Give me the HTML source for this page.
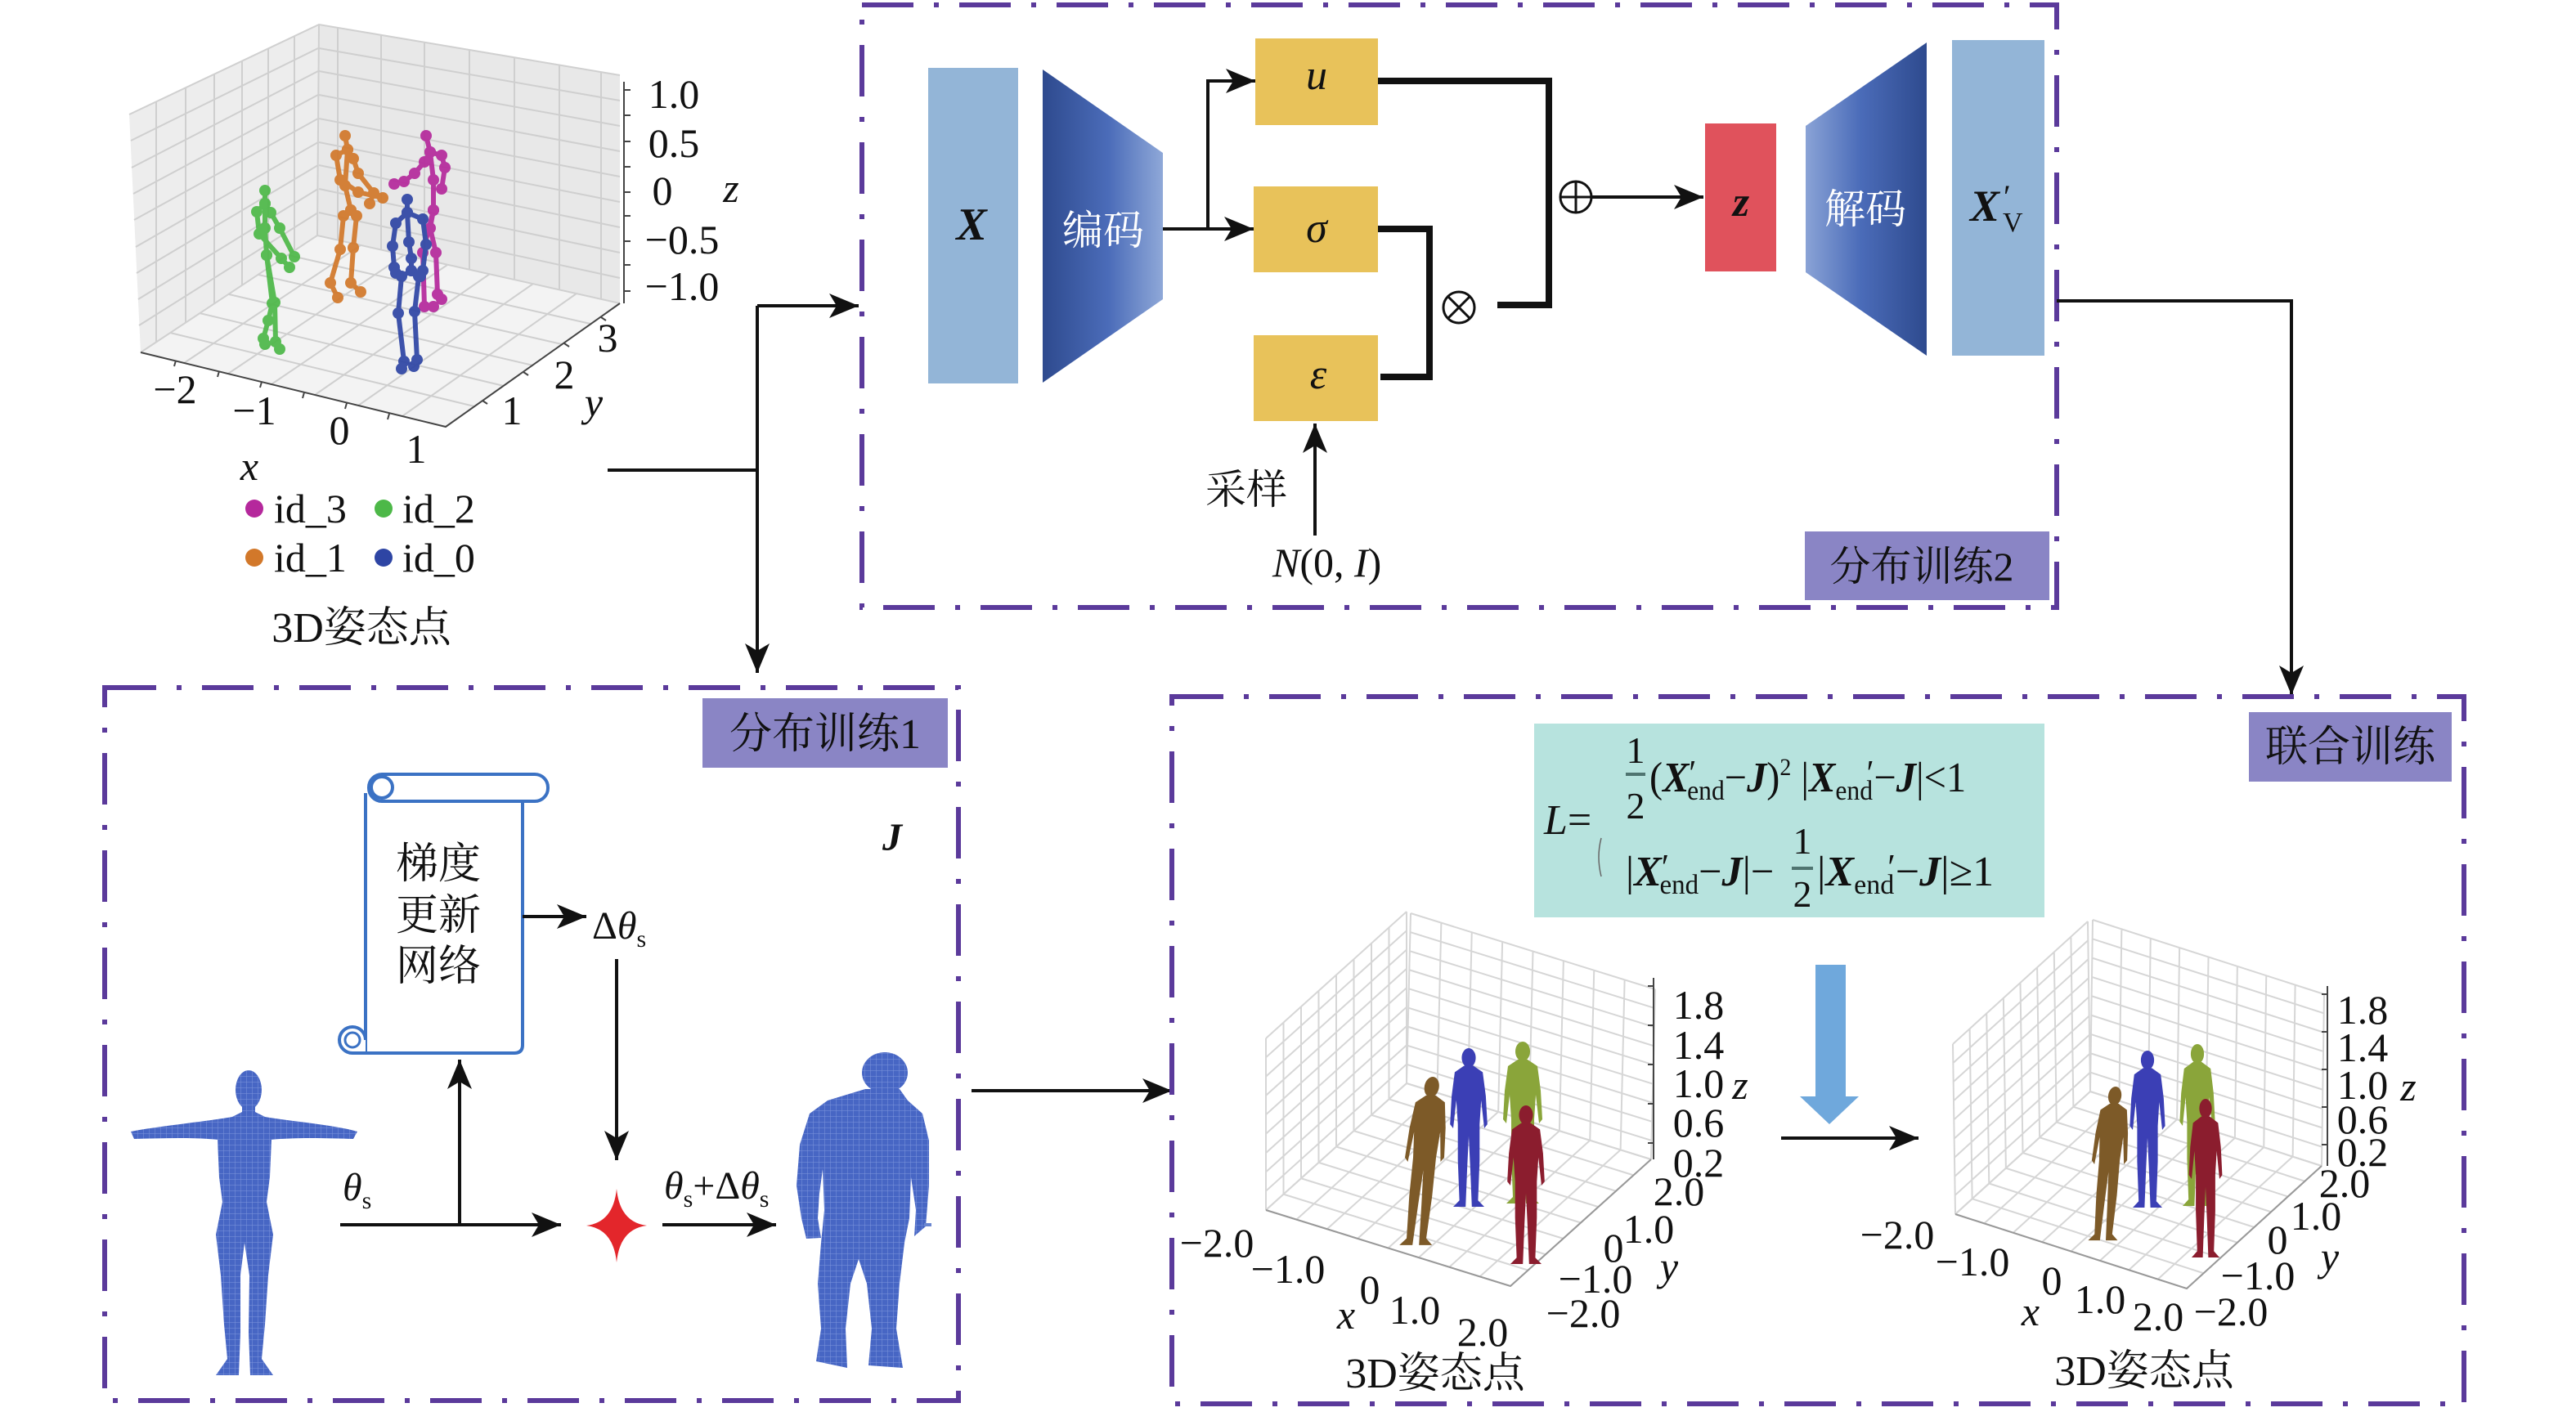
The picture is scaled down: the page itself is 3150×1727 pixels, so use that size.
<!DOCTYPE html>
<html><head><meta charset="utf-8"><style>
html,body{margin:0;padding:0;background:#fff;}
svg{display:block;}
.bi{font-weight:bold;font-style:italic;}
.it{font-style:italic;}
</style></head><body>
<svg width="3150" height="1727" viewBox="0 0 3150 1727" xmlns="http://www.w3.org/2000/svg" font-family="'Liberation Serif','Noto Serif CJK SC',serif" fill="#111">
<defs>
<linearGradient id="enc" x1="0" y1="0" x2="1" y2="0"><stop offset="0" stop-color="#2e4a8e"/><stop offset="0.55" stop-color="#4b6cb9"/><stop offset="1" stop-color="#8fa8d8"/></linearGradient>
<linearGradient id="dec" x1="0" y1="0" x2="1" y2="0"><stop offset="0" stop-color="#8aa3d6"/><stop offset="0.45" stop-color="#4b6cb9"/><stop offset="1" stop-color="#2e4a8e"/></linearGradient>
<marker id="ah" viewBox="0 0 36 30" refX="36" refY="15" markerWidth="36" markerHeight="30" markerUnits="userSpaceOnUse" orient="auto"><path d="M0,0 L36,15 L0,30 L9,15 Z" fill="#111"/></marker>
<marker id="dG" viewBox="-8 -8 16 16" refX="0" refY="0" markerWidth="16" markerHeight="16" markerUnits="userSpaceOnUse"><circle r="7" fill="#4db848"/></marker>
<marker id="dO" viewBox="-8 -8 16 16" refX="0" refY="0" markerWidth="16" markerHeight="16" markerUnits="userSpaceOnUse"><circle r="7" fill="#d2782a"/></marker>
<marker id="dM" viewBox="-8 -8 16 16" refX="0" refY="0" markerWidth="16" markerHeight="16" markerUnits="userSpaceOnUse"><circle r="7" fill="#b5289c"/></marker>
<marker id="dB" viewBox="-8 -8 16 16" refX="0" refY="0" markerWidth="16" markerHeight="16" markerUnits="userSpaceOnUse"><circle r="7" fill="#2e45a4"/></marker>
<pattern id="mesh" width="7" height="7" patternUnits="userSpaceOnUse"><rect width="7" height="7" fill="#4766c4"/><path d="M0,0H7M0,0V7" stroke="#7d95dc" stroke-width="1"/></pattern>
<path id="g89" d="M0,0V1M0.125,0V1M0.25,0V1M0.375,0V1M0.5,0V1M0.625,0V1M0.75,0V1M0.875,0V1M1,0V1M0,0H1M0,0.111H1M0,0.222H1M0,0.333H1M0,0.444H1M0,0.556H1M0,0.667H1M0,0.778H1M0,0.889H1M0,1H1" fill="none" stroke="#d6d6d6" stroke-width="2" vector-effect="non-scaling-stroke"/>
<path id="g88" d="M0,0V1M0.125,0V1M0.25,0V1M0.375,0V1M0.5,0V1M0.625,0V1M0.75,0V1M0.875,0V1M1,0V1M0,0H1M0,0.125H1M0,0.25H1M0,0.375H1M0,0.5H1M0,0.625H1M0,0.75H1M0,0.875H1M0,1H1" fill="none" stroke="#d6d6d6" stroke-width="2" vector-effect="non-scaling-stroke"/>
<g id="person"><ellipse cx="0" cy="12" rx="9" ry="12"/><path d="M-6,22 L-18,30 L-22,60 L-24,95 L-20,100 L-16,65 L-14,95 L-14,140 L-12,190 L-20,198 L-4,198 L-2,150 L0,110 L2,150 L4,198 L20,198 L12,190 L14,140 L14,95 L16,65 L20,100 L24,95 L22,60 L18,30 L6,22 Z"/></g>
</defs>

<!-- ============ TOP-LEFT 3D PLOT ============ -->
<polygon points="158,140 390,30 388,288 172,431" fill="#ededed"/>
<polygon points="390,30 758,92 758,371 388,288" fill="#e8e8e8"/>
<polygon points="388,288 172,431 545,522 758,371" fill="#f3f3f3"/>
<g stroke="#cfcfcf" stroke-width="2" fill="none">
<path d="M191,124V418M227,107V395M262,91V372M296,75V349M328,59V328M360,44V307"/>
<path d="M160,172L389,59M161,205L389,87M163,237L389,116M164,269L389,145M166,302L389,174M167,334L389,202M169,366L389,231M170,398L389,260"/>
<path d="M413,34V293M466,43V305M519,52V317M574,61V329M629,70V341M684,80V354M735,88V365"/>
<path d="M390,59L758,123M390,87L758,154M390,116L758,185M390,145L758,216M390,174L758,247M390,202L758,278M390,231L758,309M390,260L758,340"/>
<path d="M352,312L722,396M316,336L687,421M280,360L652,447M244,383L616,472M208,407L580,497M441,300L225,444M494,312L279,457M547,324L332,470M599,335L385,483M652,347L438,496M705,359L492,509"/>
<path d="M390,30L388,288M158,140L390,30L758,92M388,288L172,431M388,288L758,371" stroke="#d0d0d0"/>
</g>
<g stroke="#444" stroke-width="2" fill="none">
<path d="M172,431L545,522L758,371"/>
<path d="M763,100V371"/>
<path d="M763,110h8M763,141h8M763,173h8M763,204h8M763,235h8M763,264h8M763,295h8M763,324h8M763,356h8"/>
<path d="M215,441l-2,7M268,454l-2,7M320,467l-2,7M372,480l-2,7M424,493l-2,7M476,506l-2,7M590,490l6,4M640,455l6,4M690,420l6,4M735,388l6,4"/>
</g>
<!-- skeletons -->
<g fill="none" stroke-width="6" stroke-linejoin="round" stroke-linecap="round" opacity="0.92">
<g stroke="#4db848" marker-start="url(#dG)" marker-mid="url(#dG)" marker-end="url(#dG)">
<polyline points="324,233 324,249 324,279 326,312"/>
<polyline points="326,312 333,371 328,392 322,414 324,421"/>
<polyline points="326,312 336,370 337,418 342,427"/>
<polyline points="324,249 314,259 317,286 344,316 354,327"/>
<polyline points="324,249 331,260 342,279 360,314"/>
</g>
<g stroke="#d2782a" marker-start="url(#dO)" marker-mid="url(#dO)" marker-end="url(#dO)">
<polyline points="422,166 425,183 422,227 429,257"/>
<polyline points="425,183 411,190 416,220 438,235 468,242"/>
<polyline points="425,183 432,194 438,212 457,236 452,249"/>
<polyline points="429,257 420,264 416,305 404,346 413,364"/>
<polyline points="429,257 436,264 432,303 429,346 441,357"/>
</g>
<g stroke="#b5289c" marker-start="url(#dM)" marker-mid="url(#dM)" marker-end="url(#dM)">
<polyline points="521,166 526,186 530,220 530,257"/>
<polyline points="526,186 540,190 544,205 540,231"/>
<polyline points="526,186 519,198 507,212 494,222 482,225"/>
<polyline points="530,257 526,279 533,309 535,360 540,366"/>
<polyline points="530,257 517,309 519,375 530,375"/>
</g>
<g stroke="#2e45a4" marker-start="url(#dB)" marker-mid="url(#dB)" marker-end="url(#dB)">
<polyline points="498,244 498,260 500,296 503,316 503,331"/>
<polyline points="498,260 484,273 480,301 482,327 484,334"/>
<polyline points="498,260 517,268 521,299 517,331 514,338"/>
<polyline points="503,331 491,338 487,383 494,442 491,451"/>
<polyline points="503,331 512,338 507,381 510,440 506,448"/>
</g>
</g>
<g font-size="50" text-anchor="middle">
<text x="824" y="132">1.0</text><text x="824" y="192">0.5</text><text x="810" y="250">0</text><text x="834" y="310">−0.5</text><text x="834" y="367">−1.0</text>
<text x="894" y="247" class="it">z</text>
<text x="214" y="493">−2</text><text x="311" y="519">−1</text><text x="415" y="543">0</text><text x="509" y="566">1</text>
<text x="305" y="587" class="it">x</text>
<text x="743" y="430">3</text><text x="690" y="475">2</text><text x="626" y="519">1</text>
<text x="726" y="509" class="it">y</text>
</g>
<circle cx="311" cy="622" r="11" fill="#b5289c"/><circle cx="469" cy="622" r="11" fill="#4db848"/>
<circle cx="311" cy="682" r="11" fill="#d2782a"/><circle cx="469" cy="682" r="11" fill="#2e45a4"/>
<g font-size="50"><text x="335" y="639">id_3</text><text x="492" y="639">id_2</text><text x="335" y="699">id_1</text><text x="492" y="699">id_0</text></g>
<text x="442" y="785" font-size="52" text-anchor="middle">3D姿态点</text>

<!-- connectors from top-left -->
<g stroke="#111" stroke-width="4" fill="none">
<path d="M743,575H926"/>
<path d="M926,374V823" marker-end="url(#ah)"/>
<path d="M926,374H1050" marker-end="url(#ah)"/>
</g>

<!-- ============ TOP BOX ============ -->
<rect x="1054" y="6" width="1461" height="737" fill="none" stroke="#5b3a9b" stroke-width="6" stroke-dasharray="63 25 6 25"/>
<rect x="1135" y="83" width="110" height="386" fill="#93b5d7"/>
<text x="1188" y="293" font-size="56" class="bi" text-anchor="middle">X</text>
<polygon points="1275,85 1422,187 1422,366 1275,468" fill="url(#enc)"/>
<text x="1349" y="299" font-size="50" fill="#fff" text-anchor="middle">编码</text>
<rect x="1535" y="47" width="150" height="106" fill="#e8c25a"/>
<rect x="1533" y="228" width="152" height="105" fill="#e8c25a"/>
<rect x="1533" y="410" width="152" height="105" fill="#e8c25a"/>
<text x="1610" y="109" font-size="52" class="it" text-anchor="middle">u</text>
<text x="1610" y="296" font-size="52" class="it" text-anchor="middle">σ</text>
<text x="1612" y="475" font-size="52" class="it" text-anchor="middle">ε</text>
<g stroke="#111" stroke-width="4" fill="none">
<path d="M1422,280H1533" marker-end="url(#ah)"/>
<path d="M1477,282V99H1535" marker-end="url(#ah)"/>
<path d="M1947,241H2083" marker-end="url(#ah)"/>
<path d="M1608,655V518" marker-end="url(#ah)"/>
<path d="M2515,368H2802V850" marker-end="url(#ah)"/>
</g>
<g stroke="#111" stroke-width="8" fill="none">
<path d="M1685,99H1894V373H1831"/>
<path d="M1685,280H1748V461H1688"/>
</g>
<g stroke="#111" stroke-width="3" fill="none">
<circle cx="1927" cy="241" r="19"/><path d="M1908,241H1946M1927,222V260"/>
<circle cx="1784" cy="376" r="19"/><path d="M1771,363L1797,389M1797,363L1771,389"/>
</g>
<rect x="2085" y="151" width="87" height="181" fill="#e0525c"/>
<text x="2129" y="264" font-size="52" class="bi" text-anchor="middle">z</text>
<polygon points="2208,154 2356,52 2356,435 2208,333" fill="url(#dec)"/>
<text x="2281" y="273" font-size="50" fill="#fff" text-anchor="middle">解码</text>
<rect x="2387" y="49" width="113" height="386" fill="#93b5d7"/>
<text x="2409" y="270" font-size="54" class="bi">X</text>
<text x="2450" y="254" font-size="40">′</text>
<text x="2449" y="283" font-size="34">V</text>
<text x="1524" y="616" font-size="50" text-anchor="middle">采样</text>
<text x="1556" y="705" font-size="50"><tspan class="it">N</tspan>(0, <tspan class="it">I</tspan>)</text>
<rect x="2207" y="650" width="299" height="84" fill="#8a85c5"/>
<text x="2350" y="710" font-size="50" text-anchor="middle">分布训练2</text>

<!-- ============ BOTTOM-LEFT BOX ============ -->
<rect x="128" y="841" width="1044" height="872" fill="none" stroke="#5b3a9b" stroke-width="6" stroke-dasharray="63 25 6 25"/>
<rect x="859" y="854" width="300" height="85" fill="#8a85c5"/>
<text x="1009" y="915" font-size="52" text-anchor="middle">分布训练1</text>
<!-- scroll -->
<g stroke="#3b72c4" stroke-width="4" fill="#fff">
<path d="M447,970V1288H629Q639,1288 639,1278V975"/>
<rect x="451" y="947" width="219" height="33" rx="16"/>
<circle cx="467" cy="963" r="13"/>
<path d="M447,1288H431A16,16 0 1 1 447,1272"/>
<circle cx="431" cy="1272" r="9" fill="none" stroke-width="3"/>
</g>
<g font-size="52" text-anchor="middle">
<text x="536" y="1074">梯度</text><text x="536" y="1137">更新</text><text x="536" y="1199">网络</text>
</g>
<g stroke="#111" stroke-width="4" fill="none">
<path d="M639,1121H717" marker-end="url(#ah)"/>
<path d="M754,1173V1419" marker-end="url(#ah)"/>
<path d="M416,1498H686" marker-end="url(#ah)"/>
<path d="M562,1498V1296" marker-end="url(#ah)"/>
<path d="M810,1498H949" marker-end="url(#ah)"/>
<path d="M1188,1334H1433" marker-end="url(#ah)"/>
</g>
<text x="724" y="1148" font-size="48">Δ<tspan class="it">θ</tspan><tspan font-size="30" dy="10">s</tspan></text>
<text x="419" y="1468" font-size="48"><tspan class="it">θ</tspan><tspan font-size="30" dy="10">s</tspan></text>
<text x="812" y="1466" font-size="48"><tspan class="it">θ</tspan><tspan font-size="30" dy="10">s</tspan><tspan dy="-10">+Δ</tspan><tspan class="it">θ</tspan><tspan font-size="30" dy="10">s</tspan></text>
<text x="1079" y="1040" font-size="48" class="bi">J</text>
<path d="M754,1454 Q758,1495 791,1499 Q758,1503 754,1544 Q750,1503 717,1499 Q750,1495 754,1454 Z" fill="#e3262b"/>
<!-- T-pose -->
<g fill="url(#mesh)">
<ellipse cx="304" cy="1333" rx="16" ry="24"/>
<path d="M160,1384 C190,1378 250,1372 284,1366 L296,1360 L296,1352 L312,1352 L312,1360 L324,1366 C360,1372 410,1376 437,1384 L432,1393 C400,1392 360,1391 332,1394 L330,1440 L326,1470 L334,1510 L328,1560 L324,1620 L320,1662 L334,1682 L306,1682 L304,1630 L305,1560 L299,1520 L294,1560 L294,1630 L292,1682 L264,1682 L278,1662 L274,1620 L270,1560 L264,1510 L272,1470 L268,1440 L266,1394 C240,1391 200,1392 164,1393 Z"/>
<ellipse cx="1082" cy="1312" rx="28" ry="25"/>
<path d="M1058,1332 L1012,1346 L990,1362 L978,1400 L974,1450 L980,1490 L986,1515 L1004,1514 L1000,1490 L1002,1460 L1006,1430 L1008,1480 L1004,1520 L1000,1570 L1004,1625 L998,1665 L1036,1673 L1034,1625 L1040,1570 L1050,1540 L1060,1570 L1066,1625 L1062,1670 L1104,1673 L1096,1625 L1100,1570 L1106,1520 L1112,1490 L1114,1440 L1120,1480 L1118,1512 L1132,1500 L1136,1450 L1136,1395 L1128,1362 L1110,1346 L1100,1332 Z"/>
</g>
<rect x="1130" y="1496" width="9" height="4" fill="#6a86d0"/>

<!-- ============ BOTTOM-RIGHT BOX ============ -->
<rect x="1433" y="852" width="1580" height="865" fill="none" stroke="#5b3a9b" stroke-width="6" stroke-dasharray="63 25 6 25"/>
<rect x="2750" y="871" width="248" height="85" fill="#8a85c5"/>
<text x="2874" y="931" font-size="52" text-anchor="middle">联合训练</text>
<rect x="1876" y="885" width="624" height="237" fill="#b7e3de"/>
<text x="1888" y="1020" font-size="52"><tspan class="it">L</tspan>=</text>
<path d="M1958,1025 Q1952,1048 1958,1072" stroke="#666" stroke-width="1.5" fill="none"/>
<g font-size="46" text-anchor="middle">
<text x="2000" y="933">1</text><text x="2000" y="1001">2</text>
<text x="2204" y="1044">1</text><text x="2204" y="1109">2</text>
</g>
<path d="M1988,947H2012M2191,1062H2217" stroke="#4f7470" stroke-width="4"/>
<g transform="translate(2017,968) scale(0.93,1)"><text x="0" y="0" font-size="52">(<tspan class="bi">X</tspan><tspan font-size="44" dy="-8">′</tspan><tspan font-size="34" dx="-12" dy="18">end</tspan><tspan dy="-10">−</tspan><tspan class="bi">J</tspan>)<tspan font-size="30" dy="-20">2</tspan><tspan dy="20"> |</tspan><tspan class="bi">X</tspan><tspan font-size="34" dy="10">end</tspan><tspan font-size="44" dx="-8" dy="-18">′</tspan><tspan dy="8">−</tspan><tspan class="bi">J</tspan>|&lt;1</text></g>
<g transform="translate(1988,1083) scale(0.97,1)"><text x="0" y="0" font-size="52">|<tspan class="bi">X</tspan><tspan font-size="44" dy="-8">′</tspan><tspan font-size="34" dx="-12" dy="18">end</tspan><tspan dy="-10">−</tspan><tspan class="bi">J</tspan>|−</text></g>
<g transform="translate(2222,1083)"><text x="0" y="0" font-size="52">|<tspan class="bi">X</tspan><tspan font-size="34" dy="10">end</tspan><tspan font-size="44" dx="-8" dy="-18">′</tspan><tspan dy="8">−</tspan><tspan class="bi">J</tspan>|≥1</text></g>

<!-- blue arrow and black arrow -->
<rect x="2220" y="1180" width="37" height="161" fill="#6fa8dc"/>
<polygon points="2201,1341 2273,1341 2237,1375" fill="#6fa8dc"/>
<path d="M2178,1392H2346" stroke="#111" stroke-width="4" fill="none" marker-end="url(#ah)"/>

<!-- bottom-left 3D plot -->
<use href="#g89" transform="matrix(172,-155,0,-210,1548,1480)"/>
<use href="#g89" transform="matrix(299,93,5,-208,1720,1325)"/>
<use href="#g88" transform="matrix(299,93,-172,155,1720,1325)"/>
<g stroke="#999" stroke-width="2" fill="none"><path d="M1548,1480L1847,1573L2019,1418"/></g>
<g stroke="#444" stroke-width="2" fill="none"><path d="M2022,1196V1418M2022,1206h-7M2022,1254h-7M2022,1302h-7M2022,1350h-7M2022,1398h-7"/></g>
<use href="#person" fill="#8aa53a" transform="translate(1862,1274) scale(1,1)"/>
<use href="#person" fill="#3b3fb5" transform="translate(1796,1282) scale(0.95,0.98)"/>
<use href="#person" fill="#7d5a28" transform="translate(1752,1317) scale(1,1.04) skewX(-6)"/>
<use href="#person" fill="#8b1d2e" transform="translate(1866,1352) scale(0.95,0.98)"/>
<g font-size="50" text-anchor="middle">
<text x="2077" y="1246">1.8</text><text x="2077" y="1295">1.4</text><text x="2077" y="1342">1.0</text><text x="2077" y="1390">0.6</text><text x="2077" y="1439">0.2</text>
<text x="2128" y="1344" class="it">z</text>
<text x="2053" y="1474">2.0</text><text x="2016" y="1520">1.0</text><text x="1973" y="1543">0</text><text x="1951" y="1581">−1.0</text><text x="1936" y="1623">−2.0</text>
<text x="2041" y="1566" class="it">y</text>
<text x="1488" y="1537">−2.0</text><text x="1575" y="1569">−1.0</text><text x="1675" y="1594">0</text><text x="1730" y="1619">1.0</text><text x="1813" y="1646">2.0</text>
<text x="1646" y="1625" class="it">x</text>
</g>
<text x="1755" y="1697" font-size="52" text-anchor="middle">3D姿态点</text>

<!-- bottom-right 3D plot -->
<use href="#g89" transform="matrix(165,-150,-3,-208,2391,1485)"/>
<use href="#g89" transform="matrix(283,91,3,-210,2556,1335)"/>
<use href="#g88" transform="matrix(283,91,-165,150,2556,1335)"/>
<g stroke="#999" stroke-width="2" fill="none"><path d="M2391,1485L2674,1576L2839,1426"/></g>
<g stroke="#444" stroke-width="2" fill="none"><path d="M2846,1206V1426M2846,1216h-7M2846,1262h-7M2846,1308h-7M2846,1354h-7M2846,1400h-7"/></g>
<use href="#person" fill="#8aa53a" transform="translate(2687,1277) scale(0.9,1)"/>
<use href="#person" fill="#3b3fb5" transform="translate(2626,1285) scale(0.9,0.97)"/>
<use href="#person" fill="#7d5a28" transform="translate(2587,1329) scale(0.9,0.95) skewX(-5)"/>
<use href="#person" fill="#8b1d2e" transform="translate(2697,1344) scale(0.85,0.98)"/>
<g font-size="50" text-anchor="middle">
<text x="2889" y="1252">1.8</text><text x="2889" y="1298">1.4</text><text x="2889" y="1344">1.0</text><text x="2889" y="1386">0.6</text><text x="2889" y="1426">0.2</text>
<text x="2945" y="1346" class="it">z</text>
<text x="2867" y="1464">2.0</text><text x="2832" y="1504">1.0</text><text x="2785" y="1533">0</text><text x="2761" y="1577">−1.0</text><text x="2728" y="1621">−2.0</text>
<text x="2849" y="1554" class="it">y</text>
<text x="2320" y="1527">−2.0</text><text x="2412" y="1560">−1.0</text><text x="2509" y="1583">0</text><text x="2568" y="1606">1.0</text><text x="2639" y="1627">2.0</text>
<text x="2483" y="1621" class="it">x</text>
</g>
<text x="2622" y="1694" font-size="52" text-anchor="middle">3D姿态点</text>
</svg>
</body></html>
